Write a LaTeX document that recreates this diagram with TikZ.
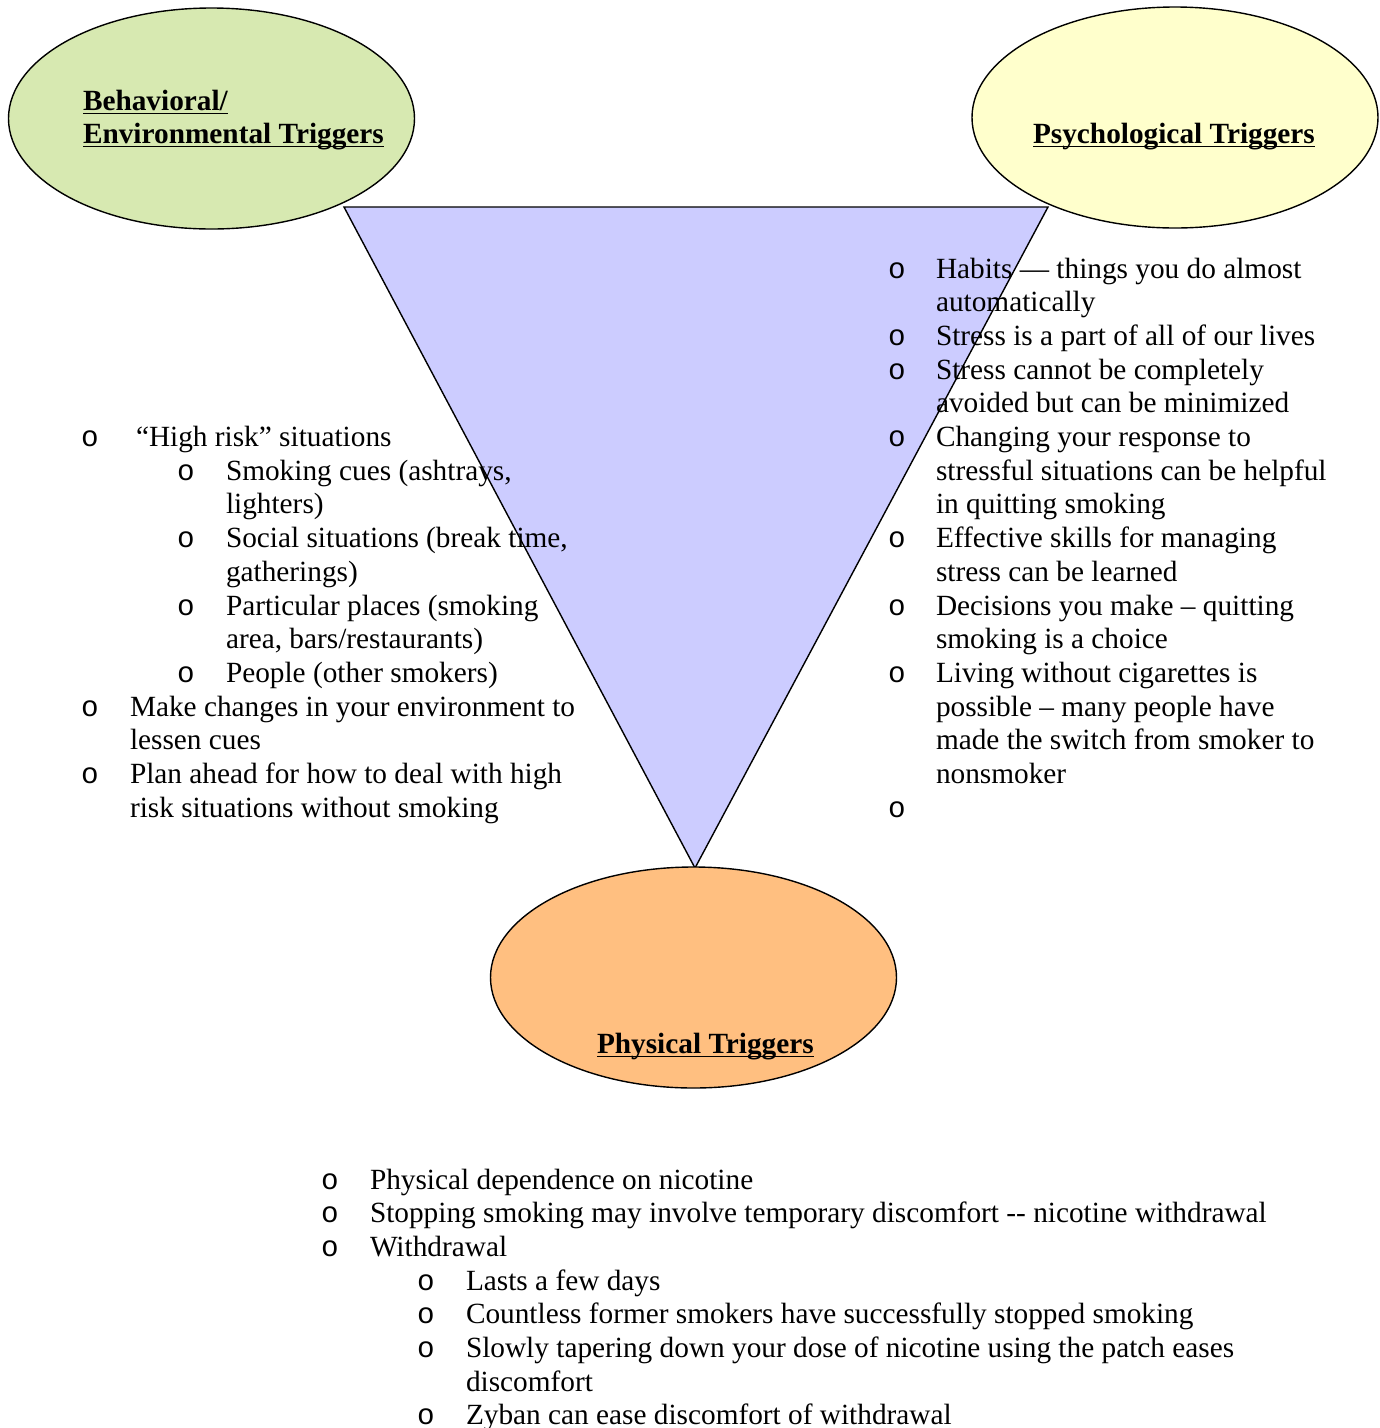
\documentclass[tikz,border=0pt]{standalone}
\usepackage{fontspec}
\setmainfont{Liberation Serif}
\newfontfamily\bulletfont{Liberation Mono}
\usetikzlibrary{shapes.geometric}
\definecolor{behavfill}{RGB}{215,233,177}
\definecolor{psychfill}{RGB}{255,255,204}
\definecolor{physfill}{RGB}{255,191,128}
\definecolor{trifill}{RGB}{204,204,255}
\begin{document}
\begin{tikzpicture}[x=1pt,y=-1pt,
  txt/.style={anchor=base west, inner sep=0pt, outer sep=0pt, font=\fontsize{29.3}{33.7}\selectfont},
  bul/.style={anchor=base, inner sep=0pt, outer sep=0pt, font=\bulletfont\fontsize{29.3}{33.7}\selectfont},
  ttl/.style={anchor=base west, inner sep=0pt, outer sep=0pt, font=\bfseries\fontsize{29.3}{33.7}\selectfont},
  oval/.style={ellipse, draw=black, line width=1.4pt, minimum width=406, minimum height=221, inner sep=0pt},
  uline/.style={line width=1.5pt}]
\fill[white] (0,0) rectangle (1380,1428);
\useasboundingbox (0,0) rectangle (1380,1428);
% ellipses
\node[oval, fill=behavfill] (behav) at (211.5,118.5) {};
\node[oval, fill=psychfill] (psych) at (1175,117.5) {};
% triangle
\coordinate (tl) at (344,207);
\coordinate (tr) at (1048,207);
\coordinate (tb) at (695,868);
\draw[line width=1.4pt, fill=trifill, line join=miter] (tl) -- (tr) -- (tb) -- cycle;
\node[oval, fill=physfill] (phys) at (693.5,977.5) {};
% titles
\node[ttl] (t1) at (83,110) {Behavioral/};
\node[ttl] (t2) at (83,143) {Environmental Triggers};
\node[ttl] (t3) at (1033,143) {Psychological Triggers};
\node[ttl] (t4) at (597,1053) {Physical Triggers};
\foreach \t in {t1,t2,t3,t4}{
  \draw[uline] ([yshift=-3.5pt]\t.base west) -- ([yshift=-3.5pt]\t.base east);
}
% right list
\node[bul] (rb0) at (897,278.0) {o};
\node[txt] (r0) at (936,278.0) {Habits — things you do almost};
\node[txt] (r1) at (936,311.7) {automatically};
\node[bul] (rb2) at (897,345.4) {o};
\node[txt] (r2) at (936,345.4) {Stress is a part of all of our lives};
\node[bul] (rb3) at (897,379.1) {o};
\node[txt] (r3) at (936,379.1) {Stress cannot be completely};
\node[txt] (r4) at (936,412.8) {avoided but can be minimized};
\node[bul] (rb5) at (897,446.5) {o};
\node[txt] (r5) at (936,446.5) {Changing your response to};
\node[txt] (r6) at (936,480.2) {stressful situations can be helpful};
\node[txt] (r7) at (936,513.9) {in quitting smoking};
\node[bul] (rb8) at (897,547.6) {o};
\node[txt] (r8) at (936,547.6) {Effective skills for managing};
\node[txt] (r9) at (936,581.3) {stress can be learned};
\node[bul] (rb10) at (897,615.0) {o};
\node[txt] (r10) at (936,615.0) {Decisions you make – quitting};
\node[txt] (r11) at (936,648.7) {smoking is a choice};
\node[bul] (rb12) at (897,682.4) {o};
\node[txt] (r12) at (936,682.4) {Living without cigarettes is};
\node[txt] (r13) at (936,716.1) {possible – many people have};
\node[txt] (r14) at (936,749.8) {made the switch from smoker to};
\node[txt] (r15) at (936,783.5) {nonsmoker};
\node[bul] (rb16) at (897,817.2) {o};
% left list
\node[bul] (lb5) at (90,446.5) {o};
\node[txt] (l5) at (136,446.5) {“High risk” situations};
\node[bul] (lb6) at (186,480.2) {o};
\node[txt] (l6) at (226,480.2) {Smoking cues (ashtrays,};
\node[txt] (l7) at (226,513.9) {lighters)};
\node[bul] (lb8) at (186,547.6) {o};
\node[txt] (l8) at (226,547.6) {Social situations (break time,};
\node[txt] (l9) at (226,581.3) {gatherings)};
\node[bul] (lb10) at (186,615.0) {o};
\node[txt] (l10) at (226,615.0) {Particular places (smoking};
\node[txt] (l11) at (226,648.7) {area, bars/restaurants)};
\node[bul] (lb12) at (186,682.4) {o};
\node[txt] (l12) at (226,682.4) {People (other smokers)};
\node[bul] (lb13) at (90,716.1) {o};
\node[txt] (l13) at (130,716.1) {Make changes in your environment to};
\node[txt] (l14) at (130,749.8) {lessen cues};
\node[bul] (lb15) at (90,783.5) {o};
\node[txt] (l15) at (130,783.5) {Plan ahead for how to deal with high};
\node[txt] (l16) at (130,817.2) {risk situations without smoking};
% bottom list
\node[bul] (bb0) at (330,1189.0) {o};
\node[txt] (b0) at (370,1189.0) {Physical dependence on nicotine};
\node[bul] (bb1) at (330,1222.7) {o};
\node[txt] (b1) at (370,1222.7) {Stopping smoking may involve temporary discomfort -{}- nicotine withdrawal};
\node[bul] (bb2) at (330,1256.4) {o};
\node[txt] (b2) at (370,1256.4) {Withdrawal};
\node[bul] (bb3) at (426,1290.1) {o};
\node[txt] (b3) at (466,1290.1) {Lasts a few days};
\node[bul] (bb4) at (426,1323.8) {o};
\node[txt] (b4) at (466,1323.8) {Countless former smokers have successfully stopped smoking};
\node[bul] (bb5) at (426,1357.5) {o};
\node[txt] (b5) at (466,1357.5) {Slowly tapering down your dose of nicotine using the patch eases};
\node[txt] (b6) at (466,1391.2) {discomfort};
\node[bul] (bb7) at (426,1424.9) {o};
\node[txt] (b7) at (466,1424.9) {Zyban can ease discomfort of withdrawal};
\end{tikzpicture}
\end{document}
